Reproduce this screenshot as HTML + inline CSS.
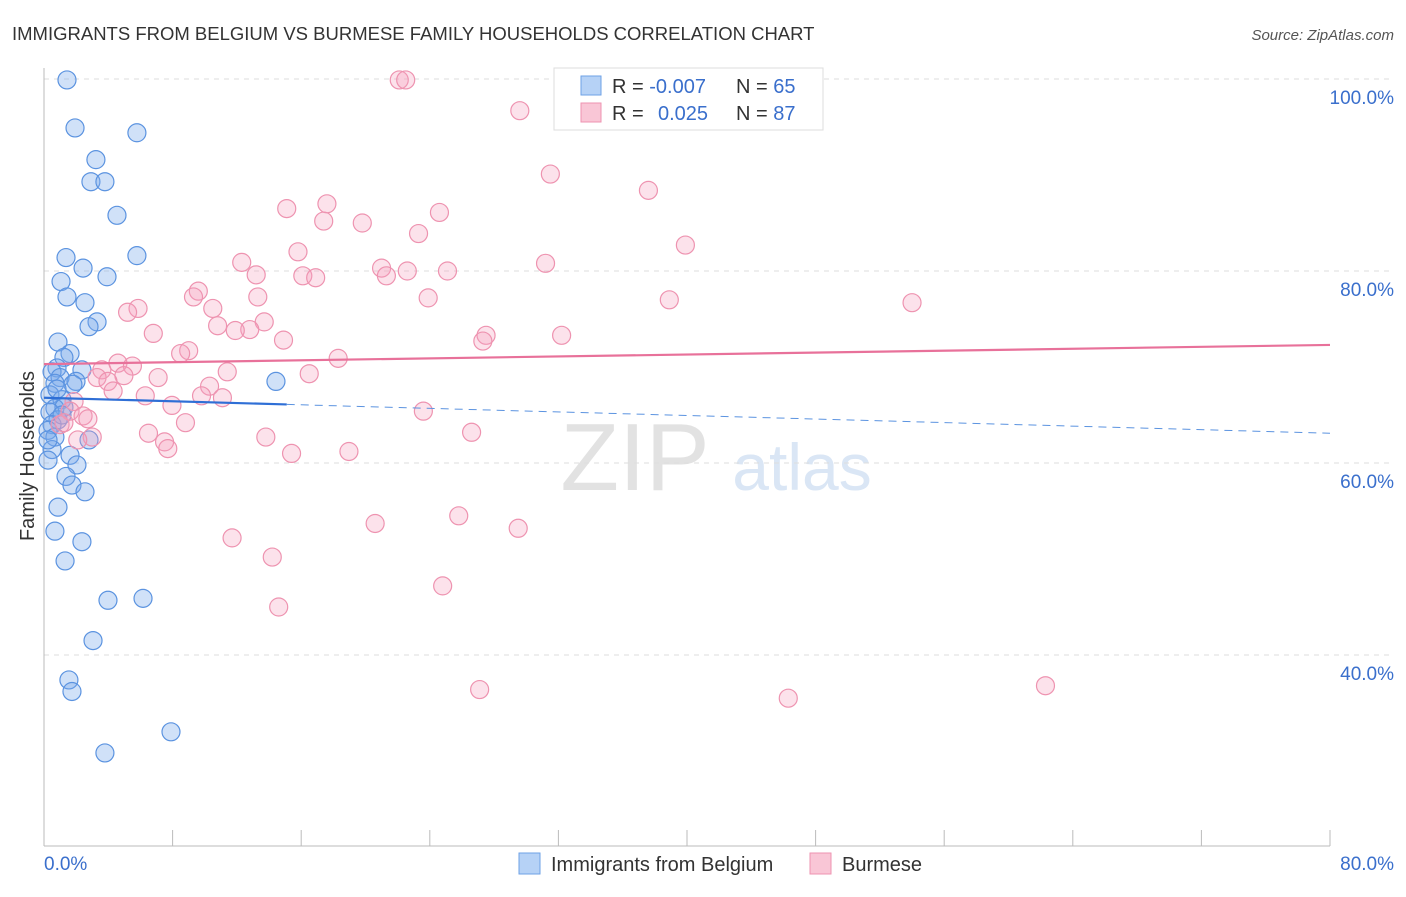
<!DOCTYPE html>
<html><head><meta charset="utf-8"><style>
body{margin:0;background:#fff;font-family:"Liberation Sans",sans-serif}
svg text{font-family:"Liberation Sans",sans-serif}
</style></head><body>
<svg width="1406" height="892" id="c">
<text x="12" y="40" font-size="18.5" fill="#333">IMMIGRANTS FROM BELGIUM VS BURMESE FAMILY HOUSEHOLDS CORRELATION CHART</text>
<text x="1394" y="40" font-size="15" fill="#555" font-style="italic" text-anchor="end">Source: ZipAtlas.com</text>
<text x="635" y="490" font-size="96" fill="#e2e2e2" font-family="Liberation Serif" text-anchor="middle">ZIP</text>
<text x="802" y="490" font-size="66" fill="#dae6f5" text-anchor="middle">atlas</text>
<g id="grid"></g><g id="pts"></g><g id="trend"></g>
<text transform="translate(34,456) rotate(-90)" font-size="20" fill="#333" text-anchor="middle">Family Households</text>
<g>
<rect x="554" y="68" width="269" height="62" fill="#fff" stroke="#ddd"/>
<rect x="581" y="76" width="20" height="19" fill="#b6d2f6" stroke="#6ea1e6"/>
<rect x="581" y="103" width="20" height="19" fill="#f9c6d6" stroke="#ee93b0"/>
<text x="612" y="93" font-size="20" fill="#333">R = <tspan fill="#3a6fcc">-0.007</tspan><tspan x="736">N = </tspan><tspan fill="#3a6fcc">65</tspan></text>
<text x="612" y="120" font-size="20" fill="#333">R = <tspan x="658" fill="#3a6fcc">0.025</tspan><tspan x="736">N = </tspan><tspan fill="#3a6fcc">87</tspan></text>
</g>
<g>
<rect x="519" y="853" width="21" height="21" fill="#b6d2f6" stroke="#6ea1e6"/>
<text x="551" y="871" font-size="20" fill="#333">Immigrants from Belgium</text>
<rect x="810" y="853" width="21" height="21" fill="#f9c6d6" stroke="#ee93b0"/>
<text x="842" y="871" font-size="20" fill="#333">Burmese</text>
</g>
<text x="44" y="870" font-size="19" fill="#3a6fcc">0.0%</text>
<text x="1394" y="870" font-size="19" fill="#3a6fcc" text-anchor="end">80.0%</text>
</svg>
<script>
const yTicks=[100,80,60,40];
const yTickLabels=["100.0%","80.0%","60.0%","40.0%"];
const blueX=[1.43,1.93,5.78,3.23,2.92,3.79,4.54,5.78,1.37,2.43,3.92,1.06,1.43,2.55,3.30,2.80,0.87,1.62,1.24,0.81,2.36,0.5,1.0,1.99,0.68,1.8,14.43,0.37,1.12,0.68,1.24,0.37,0.87,0.5,0.25,0.68,2.8,0.5,1.62,0.25,2.05,1.37,1.74,2.55,0.87,0.68,2.36,1.31,3.98,6.16,3.05,1.55,1.74,7.9,3.79,0.25,1.12,0.81];
const blueY=[99.9,94.9,94.4,91.6,89.3,89.3,85.8,81.6,81.4,80.3,79.4,78.9,77.3,76.7,74.7,74.2,72.6,71.4,71.0,69.9,69.7,69.5,68.9,68.5,68.3,68.2,68.5,67.1,66.6,65.7,65.8,65.3,64.5,64.0,63.4,62.7,62.4,61.4,60.8,60.3,59.8,58.6,57.7,57.0,55.4,52.9,51.8,49.8,45.7,45.9,41.5,37.4,36.2,32.0,29.8,62.4,65.0,67.7];
const pinkX=[22.1,22.5,29.6,31.5,37.6,15.1,17.6,17.4,19.8,24.6,23.3,39.9,15.8,12.3,31.2,21.0,22.6,25.1,13.2,16.1,16.9,21.3,9.6,9.3,13.3,23.9,38.9,54.0,5.85,5.2,10.5,13.7,10.8,12.8,11.9,6.8,27.5,32.2,27.3,14.9,9.0,8.5,18.3,4.6,5.5,3.6,4.97,11.4,16.5,7.1,3.3,3.98,10.3,4.3,6.3,9.8,11.1,1.87,7.96,23.6,1.62,2.43,2.73,1.0,1.24,8.8,6.5,3.0,2.1,13.8,26.6,7.5,7.7,15.4,18.97,20.6,25.8,29.5,11.7,14.2,24.8,14.6,27.1,46.3,62.3];
const pinkY=[99.9,99.9,96.7,90.1,88.4,86.5,87.0,85.2,85.0,86.1,83.9,82.7,82.0,80.9,80.8,80.3,80.0,80.0,79.6,79.5,79.3,79.5,77.9,77.3,77.3,77.2,77.0,76.7,76.1,75.7,76.1,74.7,74.3,73.9,73.8,73.5,73.3,73.3,72.7,72.8,71.7,71.4,70.9,70.4,70.1,69.7,69.1,69.5,69.3,68.9,68.9,68.5,68.0,67.5,67.0,67.0,66.8,66.4,66.0,65.4,65.4,64.9,64.6,64.0,64.2,64.2,63.1,62.7,62.4,62.7,63.2,62.2,61.5,61.0,61.2,53.7,54.5,53.2,52.2,50.2,47.2,45.0,36.4,35.5,36.8];
const blueTrend=[66.8,63.1], blueSolidEnd=15.1;
const pinkTrend=[70.3,72.3];
const sx=v=>44+v/80*1286, sy=v=>79+(100-v)*9.6;
const NS="http://www.w3.org/2000/svg";
function mk(t,a,p){const e=document.createElementNS(NS,t);for(const k in a)e.setAttribute(k,a[k]);p.appendChild(e);return e;}
const g=document.getElementById('grid');
yTicks.forEach((t,i)=>{
 const l=mk('line',{x1:44,x2:1394,y1:sy(t),y2:sy(t),stroke:'#ddd','stroke-dasharray':'5,5'},g);
 
 
 const tx=mk('text',{x:1394,y:sy(t)+25,'font-size':19,fill:'#3a6fcc','text-anchor':'end'},g);
 tx.textContent=yTickLabels[i];
 
 
});
const ax=mk('line',{x1:44,x2:44,y1:68,y2:846,stroke:'#bbb'},g);


const bx=mk('line',{x1:44,x2:1330,y1:846,y2:846,stroke:'#bbb'},g);


for(let v=0;v<=80;v+=8){const t=mk('line',{x1:sx(v),x2:sx(v),y1:830,y2:846,stroke:'#bbb'},g);
 
 }
const p=document.getElementById('pts');
blueX.forEach((x,i)=>{const c=mk('circle',{cx:sx(x),cy:sy(blueY[i]),r:9,fill:'rgba(120,170,235,0.35)',stroke:'#5b93e0','stroke-width':1.2},p);
 
 });
pinkX.forEach((x,i)=>{const c=mk('circle',{cx:sx(x),cy:sy(pinkY[i]),r:9,fill:'rgba(245,160,190,0.3)',stroke:'#ee93b0','stroke-width':1.2},p);
 
 });
const tr=document.getElementById('trend');
const by=v=>blueTrend[0]+(blueTrend[1]-blueTrend[0])*v/80;
const b1=mk('line',{x1:sx(0),y1:sy(by(0)),x2:sx(blueSolidEnd),y2:sy(by(blueSolidEnd)),stroke:'#2f6fd6','stroke-width':2.2},tr);


const b2=mk('line',{x1:sx(blueSolidEnd),y1:sy(by(blueSolidEnd)),x2:sx(80),y2:sy(by(80)),stroke:'#5b93e0','stroke-width':1,'stroke-dasharray':'8,6'},tr);


const pl=mk('line',{x1:sx(0),y1:sy(pinkTrend[0]),x2:sx(80),y2:sy(pinkTrend[1]),stroke:'#e8719a','stroke-width':2.2},tr);


</script>
</body></html>
